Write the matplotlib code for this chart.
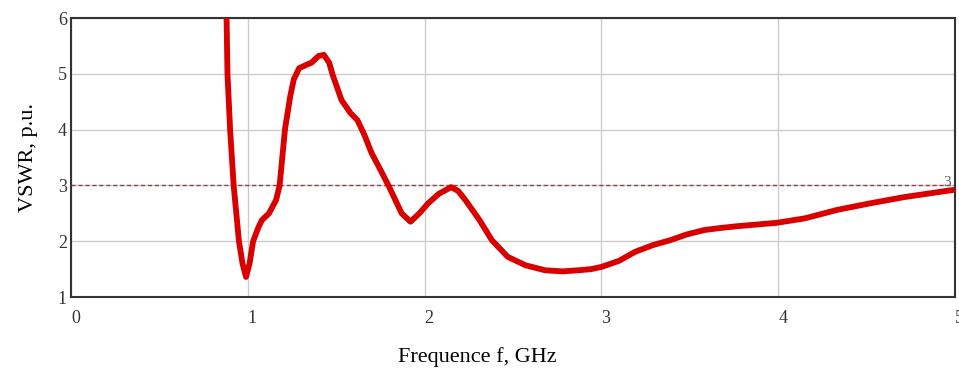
import matplotlib
matplotlib.use('Agg')
import matplotlib.pyplot as plt
import numpy as np

# values
freq = [0.875, 0.88, 0.885, 0.90, 0.92, 0.95, 0.97, 0.99, 1.01, 1.03,
        1.06, 1.08, 1.12, 1.16, 1.18, 1.21, 1.24, 1.26, 1.29, 1.33,
        1.36, 1.40, 1.43, 1.46, 1.48, 1.53, 1.58, 1.62, 1.66, 1.70,
        1.75, 1.80, 1.84, 1.87, 1.92, 1.97, 2.02, 2.08, 2.15, 2.19,
        2.23, 2.31, 2.38, 2.47, 2.57, 2.68, 2.78, 2.87, 2.94, 3.00,
        3.10, 3.19, 3.29, 3.39, 3.48, 3.58, 3.68, 3.77, 3.88, 3.99,
        4.15, 4.33, 4.52, 4.71, 4.86, 4.99]
vswr = [6.4, 6.0, 5.0, 4.0, 3.0, 2.0, 1.6, 1.36, 1.6, 2.0,
        2.25, 2.38, 2.5, 2.74, 3.0, 4.0, 4.6, 4.9, 5.1, 5.16,
        5.2, 5.32, 5.34, 5.2, 4.98, 4.53, 4.3, 4.17, 3.9, 3.58,
        3.28, 2.97, 2.7, 2.5, 2.35, 2.5, 2.68, 2.85, 2.97, 2.9,
        2.74, 2.38, 2.02, 1.72, 1.57, 1.48, 1.46, 1.48, 1.5, 1.54,
        1.65, 1.81, 1.93, 2.02, 2.12, 2.2, 2.24, 2.27, 2.30, 2.33,
        2.41, 2.56, 2.68, 2.79, 2.86, 2.92]
limit = 3
xticks = [0, 1, 2, 3, 4, 5]
yticks = [1, 2, 3, 4, 5, 6]

plt.rcParams['font.family'] = ['Liberation Serif', 'DejaVu Serif']

fig = plt.figure(figsize=(9.59, 3.76), dpi=100)
ax = fig.add_axes([0.074, 0.21, 0.922, 0.742])

ax.plot(freq, vswr, color='#d90000', linewidth=4.2, solid_capstyle='round',
        solid_joinstyle='round', zorder=3)
ax.axhline(limit, color='#8b4a4a', linewidth=1.0, linestyle=(0, (3, 2)), zorder=2)
ax.text(4.955, limit + 0.06, '3', fontsize=11, color='#606060', ha='center', va='center')

ax.set_xlim(0, 5)
ax.set_ylim(1, 6)
ax.set_xticks(xticks)
ax.set_yticks(yticks)
ax.grid(color='#cccccc', linewidth=1.0)
ax.set_axisbelow(True)
ax.tick_params(length=0, labelsize=13, colors='#333333')
ax.tick_params(axis='x', pad=9)
ax.tick_params(axis='y', pad=3)
for lbl in ax.get_xticklabels():
    lbl.set_ha('left')
for s in ax.spines.values():
    s.set_color('#333333')
    s.set_linewidth(1.5)

ax.set_xlabel('Frequence f, GHz', fontsize=16, va='center')
ax.xaxis.set_label_coords(0.459, -0.215)
ax.set_ylabel('VSWR, p.u.', fontsize=16, labelpad=14)

plt.savefig('out.png', dpi=100)
